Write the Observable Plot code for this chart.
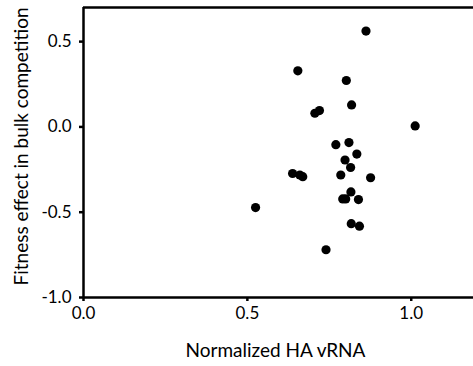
<!DOCTYPE html>
<html>
<head>
<meta charset="utf-8">
<script src="https://cdn.jsdelivr.net/npm/d3@7"></script>
<script src="https://cdn.jsdelivr.net/npm/@observablehq/plot@0.6"></script>
<style>
  html, body { margin: 0; padding: 0; background: #fff; }
</style>
</head>
<body>
<div id="chart"></div>
<script>
const hvRNA = [0.862, 0.654, 0.802, 0.818, 0.706, 0.720, 1.012, 0.770, 0.810, 0.834, 0.798, 0.815, 0.785, 0.876, 0.638, 0.660, 0.669, 0.816, 0.791, 0.800, 0.839, 0.525, 0.817, 0.842, 0.740];
const fitness = [0.562, 0.329, 0.272, 0.129, 0.080, 0.096, 0.006, -0.104, -0.092, -0.159, -0.194, -0.238, -0.282, -0.298, -0.273, -0.282, -0.292, -0.381, -0.422, -0.422, -0.426, -0.473, -0.567, -0.582, -0.720];
const xTicks = [0, 0.5, 1.0];
const yTicks = [-1.0, -0.5, 0.0, 0.5];
const xLabel = "Normalized HA vRNA";
const yLabel = "Fitness effect in bulk competition";

const data = hvRNA.map((x, i) => ({x, y: fitness[i]}));
const xMax = 1.19, yMin = -1.0, yMax = 0.70;

const chart = Plot.plot({
  width: 473,
  height: 366,
  marginLeft: 83,
  marginRight: 0,
  marginTop: 7,
  marginBottom: 69,
  style: {fontFamily: "Lato, sans-serif", background: "#fff", color: "#000"},
  x: {domain: [0, xMax]},
  y: {domain: [yMin, yMax]},
  marks: [
    Plot.axisX({ticks: xTicks, tickFormat: d => d.toFixed(1), tickSize: 4, tickPadding: 5, fontSize: 17, strokeWidth: 2.5, label: null}),
    Plot.axisY({ticks: yTicks, tickFormat: d => d.toFixed(1), tickSize: 4, tickPadding: 8, fontSize: 17, strokeWidth: 2.5, label: null}),
    Plot.text([xLabel], {frameAnchor: "bottom", dx: -3, dy: 53, fontSize: 19, lineAnchor: "middle", fill: "#000"}),
    Plot.text([yLabel], {frameAnchor: "left", textAnchor: "middle", rotate: -90, dx: -62, dy: -6, fontSize: 19, lineAnchor: "middle", fill: "#000"}),
    Plot.ruleX([0], {strokeWidth: 2.5}),
    Plot.ruleY([yMin], {strokeWidth: 2.5}),
    Plot.ruleY([yMax], {strokeWidth: 2.5}),
    Plot.dot(data, {x: "x", y: "y", r: 4.6, fill: "#000", stroke: "none"})
  ]
});
document.getElementById("chart").appendChild(chart);
</script>
</body>
</html>
